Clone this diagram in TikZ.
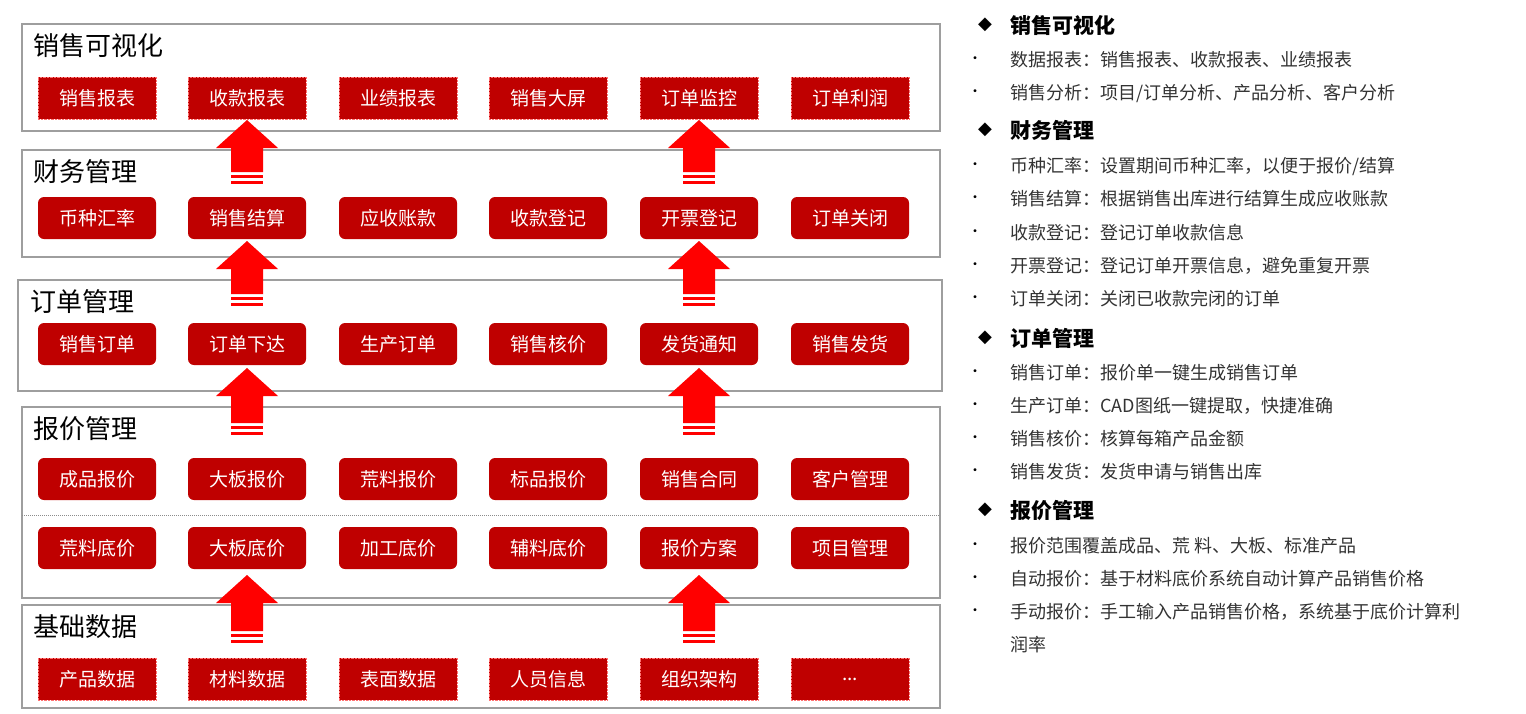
\documentclass[tikz,border=0pt]{standalone}
\usepackage{fontspec}
\setmainfont{Noto Sans CJK SC}
\newfontfamily\djfont{DejaVu Sans}
\begin{document}
\begin{tikzpicture}[x=1pt,y=-1pt,
  panel/.style={draw=black!38,line width=1.5pt},
  ptitle/.style={anchor=west,font=\fontsize{26}{28}\selectfont,inner sep=0},
  rbox/.style={fill=red!75!black,rounded corners=6pt,text=white,minimum width=118pt,minimum height=42pt,font=\fontsize{19}{20}\selectfont,inner sep=0},
  dbox/.style={fill=red!75!black,draw=red!55,densely dotted,text=white,minimum width=118pt,minimum height=42pt,font=\fontsize{19}{20}\selectfont,inner sep=0},
  hd/.style={anchor=west,font=\fontsize{21}{23}\selectfont\bfseries,inner sep=0},
  it/.style={anchor=west,font=\fontsize{18}{20}\selectfont,text=black!80,inner sep=0},
  bu/.style={font=\fontsize{14}{14}\selectfont,inner sep=0}]
\useasboundingbox (0,0) rectangle (1526,713);
\draw[panel] (22,24) rectangle (940,131);
\draw[panel] (22,150) rectangle (940,257);
\draw[panel] (18,280) rectangle (942,391);
\draw[panel] (22,407) rectangle (940,598);
\draw[panel] (22,605) rectangle (940,708);
\draw[black!45,densely dotted,line width=1pt] (22,515) -- (940,515);
\node[ptitle] (t1) at (33,46) {销售可视化};
\node[ptitle] (t2) at (33,172) {财务管理};
\node[ptitle] (t3) at (30,302) {订单管理};
\node[ptitle] (t4) at (33,429) {报价管理};
\node[ptitle] (t5) at (33,627) {基础数据};
\foreach \t [count=\i] in {销售报表,收款报表,业绩报表,销售大屏,订单监控,订单利润}
  {\pgfmathsetmacro\xx{{97,247,398,548,699,850}[\i-1]}\node[dbox] (a\i) at (\xx,98) {\t};}
\foreach \t [count=\i] in {币种汇率,销售结算,应收账款,收款登记,开票登记,订单关闭}
  {\pgfmathsetmacro\xx{{97,247,398,548,699,850}[\i-1]}\node[rbox] (b\i) at (\xx,218) {\t};}
\foreach \t [count=\i] in {销售订单,订单下达,生产订单,销售核价,发货通知,销售发货}
  {\pgfmathsetmacro\xx{{97,247,398,548,699,850}[\i-1]}\node[rbox] (c\i) at (\xx,344) {\t};}
\foreach \t [count=\i] in {成品报价,大板报价,荒料报价,标品报价,销售合同,客户管理}
  {\pgfmathsetmacro\xx{{97,247,398,548,699,850}[\i-1]}\node[rbox] (d\i) at (\xx,479) {\t};}
\foreach \t [count=\i] in {荒料底价,大板底价,加工底价,辅料底价,报价方案,项目管理}
  {\pgfmathsetmacro\xx{{97,247,398,548,699,850}[\i-1]}\node[rbox] (e\i) at (\xx,548) {\t};}
\node[dbox] (f1) at (97,679) {产品数据};
\node[dbox] (f2) at (247,679) {材料数据};
\node[dbox] (f3) at (398,679) {表面数据};
\node[dbox] (f4) at (548,679) {人员信息};
\node[dbox] (f5) at (699,679) {组织架构};
\node[dbox] (f6) at (850,679) {...};
% arrows
\foreach \x in {247,699}{
 \foreach \ta/\tb in {120/186,241/308,368/437,575/645}{
  \fill[red] (\x,\ta) -- (\x+31,\ta+28) -- (\x+16,\ta+28) -- (\x+16,\tb-14) -- (\x-16,\tb-14) -- (\x-16,\ta+28) -- (\x-31,\ta+28) -- cycle;
  \fill[red] (\x-16,\tb-11) rectangle (\x+16,\tb-8);
  \fill[red] (\x-16,\tb-5) rectangle (\x+16,\tb-2);
 }}
% right text
\foreach \y/\t in {25/销售可视化,130/财务管理,338/订单管理,510/报价管理}{
  \node[font=\djfont\fontsize{18}{18}\selectfont,inner sep=0] at (985,\y) {◆};
  \node[hd] at (1010,\y) {\t};}
\foreach \y/\t in {60/{数据报表：销售报表、收款报表、业绩报表},93/{销售分析：项目/订单分析、产品分析、客户分析},
  166/{币种汇率：设置期间币种汇率，以便于报价/结算},199/{销售结算：根据销售出库进行结算生成应收账款},233/{收款登记：登记订单收款信息},266/{开票登记：登记订单开票信息，避免重复开票},299/{订单关闭：关闭已收款完闭的订单},
  373/{销售订单：报价单一键生成销售订单},406/{生产订单：CAD图纸一键提取，快捷准确},439/{销售核价：核算每箱产品金额},472/{销售发货：发货申请与销售出库},
  546/{报价范围覆盖成品、荒 料、大板、标准产品},579/{自动报价：基于材料底价系统自动计算产品销售价格},612/{手动报价：手工输入产品销售价格，系统基于底价计算利}}{
  \node[bu] at (975,\y) {•};
  \node[it] at (1010,\y) {\t};}
\node[it] at (1010,645) {润率};
\end{tikzpicture}
\end{document}
